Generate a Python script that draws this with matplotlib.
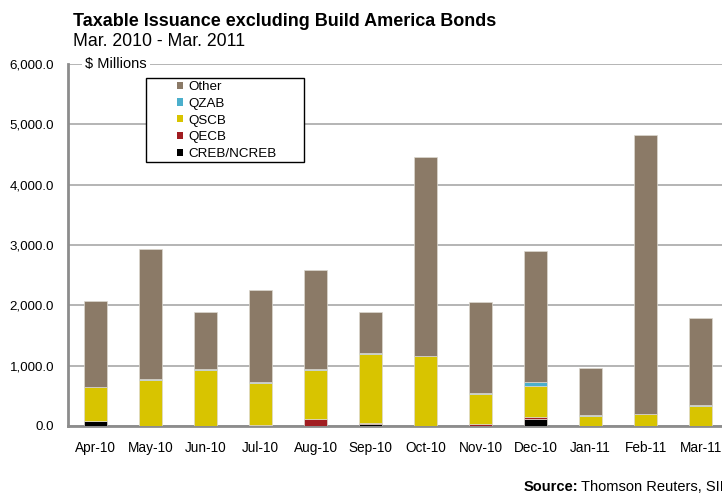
import numpy as np
import matplotlib
matplotlib.use("Agg")
import matplotlib.pyplot as plt
import matplotlib.transforms as mtransforms
from matplotlib.patches import Patch, Rectangle

plt.rcParams['font.family'] = ['Liberation Sans', 'DejaVu Sans']

months = ['Apr-10', 'May-10', 'Jun-10', 'Jul-10', 'Aug-10', 'Sep-10',
          'Oct-10', 'Nov-10', 'Dec-10', 'Jan-11', 'Feb-11', 'Mar-11']

# $ millions, stacked bottom to top
creb = [75, 0, 0, 0, 0, 35, 0, 0, 120, 0, 0, 0]
qecb = [0, 0, 0, 20, 115, 20, 0, 40, 35, 0, 0, 0]
qscb = [575, 770, 920, 690, 820, 1135, 1160, 495, 515, 160, 200, 330]
qzab = [0, 10, 20, 20, 10, 20, 5, 20, 60, 20, 0, 20]
other = [1420, 2150, 950, 1525, 1635, 680, 3295, 1495, 2174, 775, 4626, 1440]

series = [('CREB/NCREB', creb, '#000000'),
          ('QECB', qecb, '#a11d21'),
          ('QSCB', qscb, '#d8c400'),
          ('QZAB', qzab, '#4bafcc'),
          ('Other', other, '#8b7a67')]

fig = plt.figure(figsize=(7.22, 4.96), dpi=100)
ax = fig.add_axes([68 / 722, 70 / 496, 660 / 722, 362 / 496])

x = np.arange(len(months))
bottom = np.zeros(len(months))
for name, vals, col in series:
    ax.bar(x, vals, width=0.42, bottom=bottom, color=col,
           edgecolor='#dcd8d0', linewidth=0.5, zorder=3)
    bottom += np.array(vals)

ax.set_xlim(-0.5, len(months) - 0.5)
ax.set_ylim(0, 6000)
ax.set_yticks(np.arange(0, 6001, 1000))
ax.set_yticklabels([f'{v:,.1f}' for v in np.arange(0, 6001, 1000)], fontsize=9.6)
ax.set_xticks(x)
ax.set_xticklabels(months, fontsize=9.8)
ax.tick_params(axis='both', length=0)
ax.tick_params(axis='y', pad=10)
ax.tick_params(axis='x', pad=11)

ax.grid(axis='y', color='#a0a0a0', linewidth=1.1, zorder=0)
ax.set_axisbelow(True)
for s in ['top', 'right']:
    ax.spines[s].set_visible(False)
for s in ['left', 'bottom']:
    ax.spines[s].set_color('#8c8c8c')
    ax.spines[s].set_linewidth(2)

# unit label sitting on the top gridline
trans = mtransforms.blended_transform_factory(ax.transAxes, ax.transData)
ax.text(0.026, 6000, '$ Millions', transform=trans,
        fontsize=10.5, va='center', ha='left', zorder=5,
        bbox=dict(boxstyle='square,pad=0.25', facecolor='white', edgecolor='none'))

# legend box and entries
fig.patches.append(Rectangle((146 / 722, 1 - 162 / 496), 158 / 722, 84 / 496,
                             transform=fig.transFigure, facecolor='white',
                             edgecolor='black', linewidth=1, zorder=4))
handles = [Patch(facecolor=col, edgecolor='none', label=name)
           for name, vals, col in reversed(series)]
fig.legend(handles=handles, loc='upper left', bbox_to_anchor=(177 / 722, 1 - 81 / 496),
           frameon=False, fontsize=9.6, borderpad=0, borderaxespad=0,
           handlelength=0.45, handleheight=0.45, handletextpad=0.38,
           labelspacing=0.36)

fig.text(73 / 722, 1 - 26 / 496, 'Taxable Issuance excluding Build America Bonds',
         fontsize=13, fontweight='bold', va='baseline', ha='left')
fig.text(73 / 722, 1 - 46 / 496, 'Mar. 2010 - Mar. 2011',
         fontsize=12.7, va='baseline', ha='left')

src = fig.text(524 / 722, 1 - 491 / 496, 'Source:', fontsize=10.5,
               fontweight='bold', va='baseline', ha='left')
plt.annotate('Thomson Reuters, SIFMA', xy=(1, 0), xycoords=src,
             xytext=(2, 0), textcoords='offset points', fontsize=10.5,
             va='bottom', ha='left', annotation_clip=False)

fig.savefig('out.png', dpi=100)
